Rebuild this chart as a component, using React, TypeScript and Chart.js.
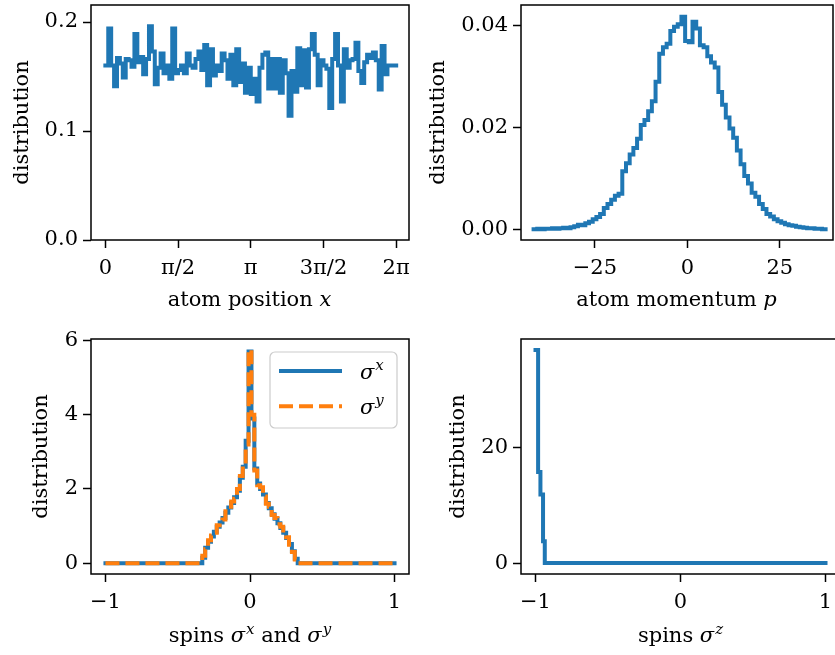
import React, { useEffect, useRef } from 'react';
import { Chart, registerables } from 'chart.js';

Chart.register(...registerables);

const FONT = '"DejaVu Serif", "Liberation Serif", serif';
const FS = 21;
const BLUE = '#1f77b4';
const ORANGE = '#ff7f0e';
const LW = 4;

// ---------------- data ----------------
// atom position x: histogram on [0, 2π]
const positionRange = [0, 2 * Math.PI];
const positionDensity = [
  0.160, 0.194, 0.160, 0.141, 0.167, 0.162, 0.149, 0.166, 0.165, 0.159,
  0.189, 0.163, 0.168, 0.152, 0.166, 0.196, 0.173, 0.143, 0.158, 0.171,
  0.153, 0.160, 0.148, 0.194, 0.153, 0.156, 0.160, 0.153, 0.171, 0.160,
  0.158, 0.166, 0.173, 0.156, 0.179, 0.142, 0.175, 0.151, 0.160, 0.155,
  0.171, 0.165, 0.148, 0.170, 0.142, 0.175, 0.145, 0.162, 0.135, 0.158,
  0.134, 0.148, 0.127, 0.158, 0.170, 0.172, 0.139, 0.166, 0.139, 0.166,
  0.135, 0.165, 0.153, 0.114, 0.155, 0.136, 0.176, 0.142, 0.174, 0.140,
  0.175, 0.189, 0.170, 0.142, 0.165, 0.160, 0.157, 0.121, 0.166, 0.189,
  0.160, 0.127, 0.175, 0.158, 0.165, 0.166, 0.181, 0.155, 0.144, 0.163,
  0.170, 0.167, 0.172, 0.165, 0.138, 0.178, 0.152, 0.160, 0.160, 0.160,
];
const positionTicks = [0, Math.PI / 2, Math.PI, (3 * Math.PI) / 2, 2 * Math.PI];
const positionTickLabels = ['0', 'π/2', 'π', '3π/2', '2π'];
const positionYTicks = [0, 0.1, 0.2];
const positionYLabels = ['0.0', '0.1', '0.2'];

// atom momentum p: histogram, bins of width 1 starting at -41.6
const momentumEdgeStart = -41.6;
const momentumBinWidth = 1.0;
const momentumDensity = [
  0.0000, 0.0001, 0.0000, 0.0001, 0.0001, 0.0002, 0.0001, 0.0002, 0.0003, 0.0002, 0.0004,
  0.0006, 0.0009, 0.0008, 0.0012, 0.0015, 0.0020, 0.0024, 0.0030, 0.0042, 0.0050,
  0.0058, 0.0066, 0.0070, 0.0114, 0.0130, 0.0147, 0.0160, 0.0178, 0.0205, 0.0215,
  0.0232, 0.0252, 0.0290, 0.0345, 0.0358, 0.0365, 0.0390, 0.0398, 0.0403, 0.0418,
  0.0370, 0.0368, 0.0408, 0.0395, 0.0362, 0.0358, 0.0340, 0.0328, 0.0318, 0.0270,
  0.0245, 0.0220, 0.0198, 0.0180, 0.0155, 0.0128, 0.0105, 0.0090, 0.0072, 0.0064,
  0.0050, 0.0040, 0.0030, 0.0025, 0.0020, 0.0016, 0.0013, 0.0010, 0.0008, 0.0007,
  0.0005, 0.0004, 0.0003, 0.0002, 0.0002, 0.0001, 0.0001, 0.0000,
];
const momentumTicks = [-25, 0, 25];
const momentumTickLabels = ['\u221225', '0', '25'];
const momentumYTicks = [0, 0.02, 0.04];
const momentumYLabels = ['0.00', '0.02', '0.04'];

// spins sigma^x and sigma^y
const spinXYEdges = [
  -1, -0.33, -0.31, -0.29, -0.27, -0.25, -0.23, -0.21, -0.19, -0.17, -0.15, -0.13,
  -0.11, -0.09, -0.07, -0.05, -0.03, -0.01, 0.01, 0.03, 0.05, 0.07, 0.09, 0.11,
  0.13, 0.15, 0.17, 0.19, 0.21, 0.23, 0.25, 0.27, 0.29, 0.31, 0.33, 1,
];
const spinXDensity = [
  0, 0.15, 0.42, 0.58, 0.72, 0.85, 0.98, 1.10, 1.22, 1.36, 1.50, 1.62, 1.78, 1.95,
  2.30, 2.60, 3.30, 5.70, 3.90, 2.55, 2.15, 2.00, 1.85, 1.62, 1.48, 1.32, 1.20,
  1.08, 0.95, 0.82, 0.68, 0.52, 0.32, 0.12, 0,
];
const spinYDensity = [
  0, 0.20, 0.38, 0.62, 0.75, 0.82, 1.02, 1.12, 1.18, 1.40, 1.52, 1.66, 1.74, 2.00,
  2.35, 2.55, 3.20, 5.75, 4.00, 2.50, 2.10, 2.05, 1.80, 1.60, 1.52, 1.30, 1.22,
  1.05, 0.98, 0.80, 0.70, 0.50, 0.30, 0.10, 0,
];
const spinXYYTicks = [0, 2, 4, 6];
const spinXYYLabels = ['0', '2', '4', '6'];

// spins sigma^z
const spinZEdges = [-1, -0.982, -0.966, -0.948, -0.936, 1];
const spinZDensity = [37.0, 15.8, 11.9, 3.8, 0];
const spinZYTicks = [0, 20];
const spinZYLabels = ['0', '20'];

const spinTicks = [-1, 0, 1];
const spinTickLabels = ['\u22121', '0', '1'];

// ---------------- helpers ----------------
type Seg = { t: string; it?: boolean; sup?: boolean };

function stepPoints(edges: number[], values: number[]) {
  const pts = values.map((v, i) => ({ x: edges[i], y: v }));
  pts.push({ x: edges[edges.length - 1], y: values[values.length - 1] });
  return pts;
}

function uniformEdges(start: number, width: number, n: number) {
  const e: number[] = [];
  for (let i = 0; i <= n; i++) e.push(start + i * width);
  return e;
}

function segFont(s: Seg, size: number) {
  return `${s.it ? 'italic ' : ''}${s.sup ? Math.round(size * 0.72) : size}px ${FONT}`;
}

function segWidth(ctx: CanvasRenderingContext2D, segs: Seg[], size: number) {
  let w = 0;
  for (const s of segs) {
    ctx.font = segFont(s, size);
    w += ctx.measureText(s.t).width + (s.it && !s.sup ? 1 : 0);
  }
  return w;
}

function drawSegs(ctx: CanvasRenderingContext2D, segs: Seg[], x: number, baseline: number, size: number) {
  ctx.textAlign = 'left';
  ctx.textBaseline = 'alphabetic';
  let cx = x;
  for (const s of segs) {
    ctx.font = segFont(s, size);
    ctx.fillText(s.t, cx, s.sup ? baseline - size * 0.4 : baseline);
    cx += ctx.measureText(s.t).width + (s.it && !s.sup ? 1 : 0);
  }
}

interface LegendItem { color: string; dash: number[]; label: Seg[] }

interface PanelSpec {
  left: number; top: number; width: number; height: number;
  padding: { top: number; right: number; left: number; bottom: number };
  yWidth: number; xHeight: number;
  xMin: number; xMax: number; yMin: number; yMax: number;
  xTicks: number[]; xLabels: string[]; yTicks: number[]; yLabels: string[];
  datasets: any[];
  xTitle: Seg[]; xTitleBaseline: number; yTitleCenterX: number;
  legend?: { x: number; y: number; w: number; h: number; items: LegendItem[] };
}

function makeScale(min: number, max: number, ticks: number[], labels: string[], isX: boolean, size: number) {
  return {
    type: 'linear',
    min,
    max,
    afterBuildTicks: (s: any) => {
      s.ticks = ticks.map((v) => ({ value: v }));
    },
    afterFit: (s: any) => {
      if (isX) s.height = size; else s.width = size;
      s.paddingLeft = 0; s.paddingRight = 0; s.paddingTop = 0; s.paddingBottom = 0;
    },
    ticks: {
      callback: (_v: any, i: number) => labels[i],
      font: { family: FONT, size: FS, lineHeight: 1.2 },
      color: '#000',
      padding: isX ? 8 : 5,
      maxRotation: 0,
      minRotation: 0,
      autoSkip: false,
    },
    grid: {
      display: true,
      drawOnChartArea: false,
      drawTicks: true,
      tickLength: 8,
      tickWidth: 1.5,
      tickColor: '#000',
    },
    border: { display: false },
  };
}

function Panel({ spec }: { spec: PanelSpec }) {
  const ref = useRef<HTMLCanvasElement>(null);
  useEffect(() => {
    const decor = {
      id: 'decor',
      afterDatasetsDraw(chart: any) {
        const { ctx, chartArea: a } = chart;
        ctx.save();
        ctx.strokeStyle = '#000';
        ctx.lineWidth = 1.5;
        ctx.strokeRect(a.left, a.top, a.right - a.left, a.bottom - a.top);
        const lg = spec.legend;
        if (lg) {
          ctx.beginPath();
          ctx.roundRect(lg.x, lg.y, lg.w, lg.h, 5);
          ctx.fillStyle = 'rgba(255,255,255,0.8)';
          ctx.fill();
          ctx.strokeStyle = '#cccccc';
          ctx.lineWidth = 1.2;
          ctx.stroke();
          lg.items.forEach((it, k) => {
            const ly = lg.y + 19 + k * 35.3;
            ctx.beginPath();
            ctx.setLineDash(it.dash);
            ctx.strokeStyle = it.color;
            ctx.lineWidth = LW;
            ctx.lineCap = 'butt';
            ctx.moveTo(lg.x + 9, ly);
            ctx.lineTo(lg.x + 72, ly);
            ctx.stroke();
            ctx.setLineDash([]);
            ctx.fillStyle = '#000';
            drawSegs(ctx, it.label, lg.x + 90, ly + 7.5, FS);
          });
        }
        ctx.restore();
      },
      afterDraw(chart: any) {
        const { ctx, chartArea: a } = chart;
        ctx.save();
        ctx.fillStyle = '#000';
        const w = segWidth(ctx, spec.xTitle, FS);
        drawSegs(ctx, spec.xTitle, (a.left + a.right) / 2 - w / 2, spec.xTitleBaseline, FS);
        ctx.translate(spec.yTitleCenterX, (a.top + a.bottom) / 2);
        ctx.rotate(-Math.PI / 2);
        ctx.font = `${FS}px ${FONT}`;
        ctx.textAlign = 'center';
        ctx.textBaseline = 'middle';
        ctx.fillText('distribution', 0, 0);
        ctx.restore();
      },
    };
    const chart = new Chart(ref.current as HTMLCanvasElement, {
      type: 'line',
      data: { datasets: spec.datasets },
      options: {
        responsive: false,
        animation: false,
        devicePixelRatio: 1,
        events: [],
        layout: { padding: spec.padding },
        plugins: { legend: { display: false }, tooltip: { enabled: false } },
        scales: {
          x: makeScale(spec.xMin, spec.xMax, spec.xTicks, spec.xLabels, true, spec.xHeight) as any,
          y: makeScale(spec.yMin, spec.yMax, spec.yTicks, spec.yLabels, false, spec.yWidth) as any,
        },
      } as any,
      plugins: [decor as any],
    });
    return () => chart.destroy();
  }, [spec]);
  return (
    <canvas
      ref={ref}
      width={spec.width}
      height={spec.height}
      style={{ position: 'absolute', left: spec.left, top: spec.top, width: spec.width, height: spec.height }}
    />
  );
}

// order: lower value is drawn on top
function line(points: any[], color: string, dash: number[] = [], order = 1) {
  return {
    data: points,
    borderColor: color,
    backgroundColor: color,
    borderWidth: LW,
    borderDash: dash,
    borderCapStyle: dash.length ? 'butt' : 'square',
    borderJoinStyle: 'miter',
    pointRadius: 0,
    stepped: 'before',
    fill: false,
    tension: 0,
    order,
  };
}

const sigma = (c: string): Seg[] => [{ t: 'σ', it: true }, { t: c, it: true, sup: true }];

const specs: PanelSpec[] = [
  {
    left: 0, top: 0, width: 417, height: 320,
    padding: { top: 5, right: 8, left: 0, bottom: 0 },
    yWidth: 91, xHeight: 80,
    xMin: -0.31, xMax: 6.56, yMin: 0, yMax: 0.2156,
    xTicks: positionTicks, xLabels: positionTickLabels,
    yTicks: positionYTicks, yLabels: positionYLabels,
    datasets: [
      line(
        stepPoints(
          uniformEdges(positionRange[0], (positionRange[1] - positionRange[0]) / positionDensity.length, positionDensity.length),
          positionDensity
        ),
        BLUE
      ),
    ],
    xTitle: [{ t: 'atom position ' }, { t: 'x', it: true }],
    xTitleBaseline: 306,
    yTitleCenterX: 23,
  },
  {
    left: 417, top: 0, width: 418, height: 320,
    padding: { top: 5, right: 2, left: 0, bottom: 0 },
    yWidth: 104, xHeight: 80,
    xMin: -45.0, xMax: 39.4, yMin: -0.0021, yMax: 0.0441,
    xTicks: momentumTicks, xLabels: momentumTickLabels,
    yTicks: momentumYTicks, yLabels: momentumYLabels,
    datasets: [
      line(stepPoints(uniformEdges(momentumEdgeStart, momentumBinWidth, momentumDensity.length), momentumDensity), BLUE),
    ],
    xTitle: [{ t: 'atom momentum ' }, { t: 'p', it: true }],
    xTitleBaseline: 306,
    yTitleCenterX: 22,
  },
  {
    left: 0, top: 320, width: 417, height: 335,
    padding: { top: 19, right: 8, left: 0, bottom: 0 },
    yWidth: 91, xHeight: 81,
    xMin: -1.1, xMax: 1.1, yMin: -0.29, yMax: 6.04,
    xTicks: spinTicks, xLabels: spinTickLabels,
    yTicks: spinXYYTicks, yLabels: spinXYYLabels,
    datasets: [
      line(stepPoints(spinXYEdges, spinXDensity), BLUE, [], 1),
      line(stepPoints(spinXYEdges, spinYDensity), ORANGE, [14, 6], 0),
    ],
    xTitle: [{ t: 'spins ' }, ...sigma('x'), { t: ' and ' }, ...sigma('y')],
    xTitleBaseline: 322,
    yTitleCenterX: 42,
    legend: {
      x: 270, y: 32, w: 127, h: 76,
      items: [
        { color: BLUE, dash: [], label: sigma('x') },
        { color: ORANGE, dash: [14, 6], label: sigma('y') },
      ],
    },
  },
  {
    left: 417, top: 320, width: 426, height: 335,
    padding: { top: 19, right: 3, left: 0, bottom: 0 },
    yWidth: 104, xHeight: 81,
    xMin: -1.1, xMax: 1.1, yMin: -1.9, yMax: 38.9,
    xTicks: spinTicks, xLabels: spinTickLabels,
    yTicks: spinZYTicks, yLabels: spinZYLabels,
    datasets: [line(stepPoints(spinZEdges, spinZDensity), BLUE)],
    xTitle: [{ t: 'spins ' }, ...sigma('z')],
    xTitleBaseline: 322,
    yTitleCenterX: 42,
  },
];

export default function App() {
  return (
    <div
      style={{
        position: 'absolute',
        left: 0,
        top: 0,
        width: 835,
        height: 655,
        overflow: 'hidden',
        background: '#fff',
      }}
    >
      {specs.map((s, i) => (
        <Panel key={i} spec={s} />
      ))}
    </div>
  );
}
